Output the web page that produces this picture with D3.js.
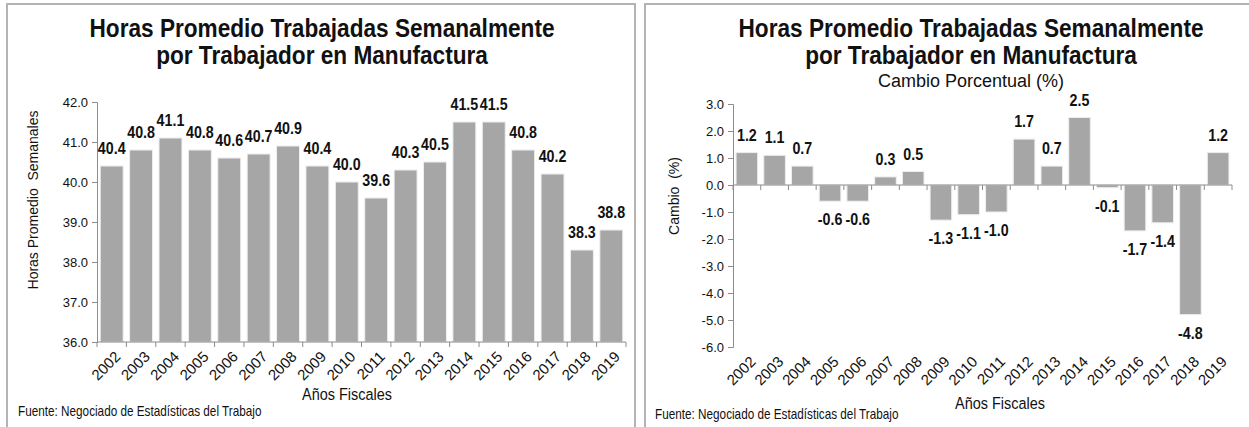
<!DOCTYPE html>
<html>
<head>
<meta charset="utf-8">
<script src="https://cdn.jsdelivr.net/npm/d3@7"></script>
<style>
  body { margin: 0; background: #fff; }
  text { fill: #111; }
</style>
</head>
<body>
<script>
const width = 1249;
const height = 427;

const years = ["2002", "2003", "2004", "2005", "2006", "2007", "2008", "2009", "2010",
  "2011", "2012", "2013", "2014", "2015", "2016", "2017", "2018", "2019"];
const hours = [40.4, 40.8, 41.1, 40.8, 40.6, 40.7, 40.9, 40.4, 40.0,
  39.6, 40.3, 40.5, 41.5, 41.5, 40.8, 40.2, 38.3, 38.8];
const change = [1.2, 1.1, 0.7, -0.6, -0.6, 0.3, 0.5, -1.3, -1.1,
  -1.0, 1.7, 0.7, 2.5, -0.1, -1.7, -1.4, -4.8, 1.2];
const hoursTicks = [36, 37, 38, 39, 40, 41, 42];
const changeTicks = [-6, -5, -4, -3, -2, -1, 0, 1, 2, 3];

const titleLines = ["Horas Promedio Trabajadas Semanalmente", "por Trabajador en Manufactura"];
const subtitle = "Cambio Porcentual (%)";
const source = "Fuente: Negociado de Estadísticas del Trabajo";

const font = "'Liberation Sans', Arial, sans-serif";
const barColor = "#a6a6a6";
const axisColor = "#8c8c8c";
const fmt = d => d.toFixed(1);   // plain hyphen for negatives

const svg = d3.select("body").append("svg")
  .attr("width", width)
  .attr("height", height);

// no narrow font installed, so squeeze Liberation Sans horizontally
function label(g, x, y, str, size, bold, sx, anchor) {
  return g.append("text")
    .attr("transform", `translate(${x},${y}) scale(${sx},1)`)
    .attr("text-anchor", anchor || "middle")
    .style("font-family", font)
    .style("font-weight", bold ? "bold" : "normal")
    .style("font-size", size + "px")
    .text(str);
}

function drawPanel(opt) {
  const g = svg.append("g");

  // frame
  g.append("rect")
    .attr("x", opt.frame[0]).attr("y", opt.frame[1])
    .attr("width", opt.frame[2]).attr("height", opt.frame[3])
    .style("fill", "none").style("stroke", "#b4b4b4").style("stroke-width", 2);

  titleLines.forEach((t, i) => label(g, opt.cx, 37 + i * 27, t, 26, true, 0.87));

  if (opt.subtitle) {
    label(g, opt.cx, 87, opt.subtitle, 18, false, 1);
  }

  const x = d3.scaleBand().domain(years).range(opt.xRange).paddingInner(0.22).paddingOuter(0.11);
  const y = d3.scaleLinear().domain(opt.domain).range(opt.yRange);
  const base = opt.base;

  // bars
  g.selectAll(".bar")
    .data(opt.values)
    .enter()
    .append("rect")
    .attr("x", (d, i) => x(years[i]))
    .attr("width", x.bandwidth())
    .attr("y", d => y(Math.max(d, base)))
    .attr("height", d => Math.abs(y(d) - y(base)))
    .style("fill", barColor)
    .style("stroke", "#eeeeee")
    .style("stroke-width", 1);

  // y axis
  const yAxis = g.append("g")
    .attr("transform", `translate(${opt.xRange[0]},0)`)
    .call(d3.axisLeft(y).tickValues(opt.ticks).tickFormat(fmt).tickSize(5).tickPadding(4));
  yAxis.select(".domain").style("stroke", axisColor);
  yAxis.selectAll(".tick line").style("stroke", axisColor);
  yAxis.selectAll("text").style("font-family", font).style("font-size", "13px").style("fill", "#111");

  // category axis line with ticks between bars
  const zeroY = y(base);
  g.append("line")
    .attr("x1", opt.xRange[0]).attr("x2", opt.xRange[1])
    .attr("y1", zeroY).attr("y2", zeroY)
    .style("stroke", axisColor);
  const step = x.step();
  g.selectAll(".xtick")
    .data(d3.range(years.length + 1))
    .enter()
    .append("line")
    .attr("x1", i => opt.xRange[0] + i * step)
    .attr("x2", i => opt.xRange[0] + i * step)
    .attr("y1", zeroY).attr("y2", zeroY + 5)
    .style("stroke", axisColor);

  // year labels
  const labelY = y(opt.domain[0]) + 12;
  g.selectAll(".year")
    .data(years)
    .enter()
    .append("text")
    .attr("transform", d => `translate(${x(d) + x.bandwidth() / 2 + 6},${labelY}) rotate(-45)`)
    .attr("text-anchor", "end")
    .attr("dy", "0.35em")
    .style("font-family", font)
    .style("font-size", "15px")
    .text(d => d);

  // value labels
  opt.values.forEach((d, i) => {
    const cx = x(years[i]) + x.bandwidth() / 2;
    const ty = d >= base ? y(d) - 12 : y(d) + 24;
    label(g, cx, ty, fmt(d), 17, true, 0.84);
  });

  // axis titles
  g.append("text")
    .attr("transform", `translate(${opt.yLabelPos[0]},${opt.yLabelPos[1]}) rotate(-90)`)
    .attr("text-anchor", "middle")
    .style("font-family", font)
    .style("font-size", "14px")
    .style("white-space", "pre")
    .text(opt.yLabel);

  label(g, opt.xLabelPos[0], opt.xLabelPos[1], "Años Fiscales", 17, false, 0.85);
  label(g, opt.sourcePos[0], opt.sourcePos[1], source, 14, false, 0.84, "start");
}

drawPanel({
  frame: [7, 4, 628, 440],
  cx: 322,
  values: hours,
  domain: [36, 42],
  base: 36,
  ticks: hoursTicks,
  xRange: [97, 626],
  yRange: [342, 102],
  yLabel: "Horas Promedio  Semanales",
  yLabelPos: [38, 200],
  xLabelPos: [347, 400],
  sourcePos: [18, 416]
});

drawPanel({
  frame: [645, 4, 620, 440],
  cx: 971,
  subtitle: subtitle,
  values: change,
  domain: [-6, 3],
  base: 0,
  ticks: changeTicks,
  xRange: [733, 1232],
  yRange: [347, 104],
  yLabel: "Cambio  (%)",
  yLabelPos: [679, 196],
  xLabelPos: [1000, 409],
  sourcePos: [655, 419]
});
</script>
</body>
</html>
